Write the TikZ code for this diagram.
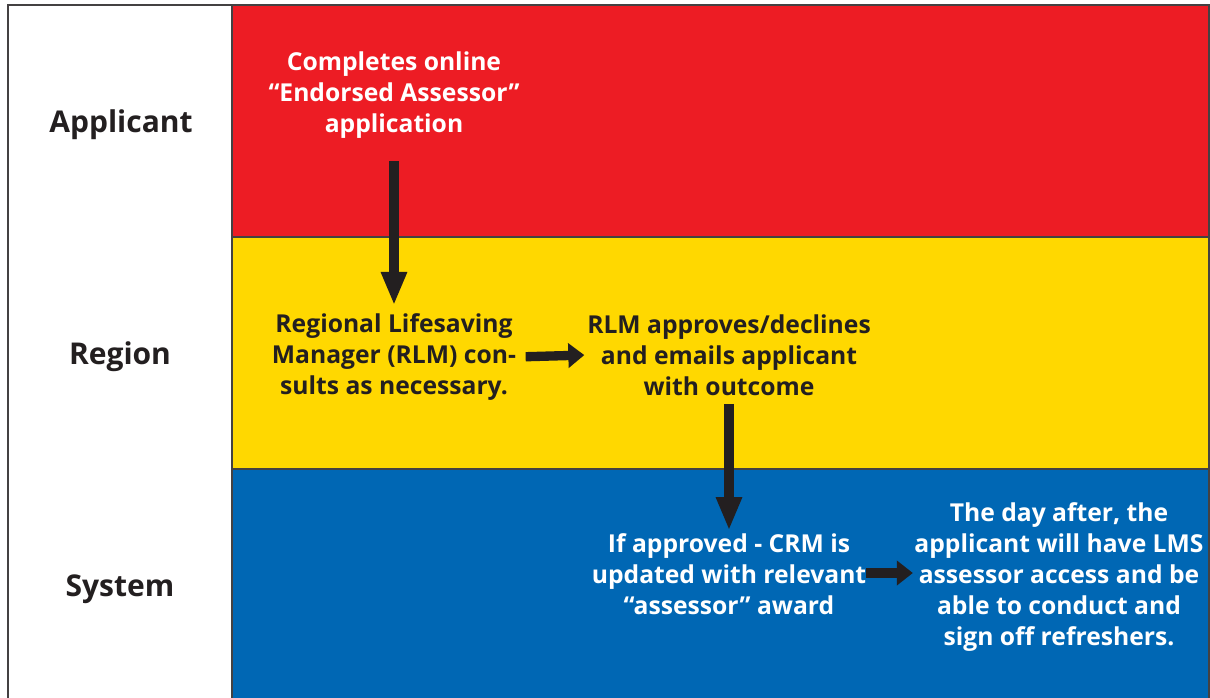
\documentclass[tikz,border=0pt]{standalone}
\usepackage{fontspec}
\setmainfont{Open Sans}
\usetikzlibrary{arrows.meta}
\definecolor{lanered}{HTML}{ED1C24}
\definecolor{laneyellow}{HTML}{FFD800}
\definecolor{laneblue}{HTML}{0067B4}
\definecolor{inkdark}{HTML}{231F20}
\begin{document}
\begin{tikzpicture}[x=0.75pt,y=-0.75pt,
  lanelabel/.style={inner sep=0pt, text=inkdark, font=\fontsize{22.5}{26}\selectfont\bfseries},
  steptext/.style={inner sep=0pt, align=center, font=\fontsize{18.5}{23.25}\selectfont\bfseries},
  flowarrow/.style={draw=inkdark, line width=7.5pt, -{Triangle[width=18pt,length=25pt]}},
  sidearrow/.style={draw=inkdark, line width=7pt, -{Triangle[width=18pt,length=12pt]}}]
\useasboundingbox (0,0) rectangle (1210,698);
\fill[white] (0,0) rectangle (1210,698);
% bands
\fill[lanered] (232,5) rectangle (1209,237);
\fill[laneyellow] (232,237) rectangle (1209,469);
\fill[laneblue] (232,469) rectangle (1209,698);
\draw[inkdark!85, line width=1.2pt] (232,237) -- (1209,237) (232,469) -- (1209,469);
\draw[inkdark!85, line width=1.2pt] (232,5) -- (232,698);
\draw[inkdark!85, line width=1.5pt] (8,698) -- (8,5) -- (1209,5) -- (1209,698);
% lane labels
\node[lanelabel] (lapp) at (121,125) {Applicant};
\node[lanelabel] (lreg) at (120,357) {Region};
\node[lanelabel] (lsys) at (120,589) {System};
% steps
\node[steptext, text=white] (s1) at (394,95) {Completes online\\“Endorsed Assessor”\\application};
\node[steptext, text=inkdark] (s2) at (394,357) {Regional Lifesaving\\Manager (RLM) con-\\sults as necessary.};
\node[steptext, text=inkdark] (s3) at (729,355) {RLM approves/declines\\and emails applicant\\with outcome};
\node[steptext, text=white] (s4) at (729,574) {If approved - CRM is\\updated with relevant\\“assessor” award};
\node[steptext, text=white] (s5) at (1059,577) {The day after, the\\applicant will have LMS\\assessor access and be\\able to conduct and\\sign off refreshers.};
% arrows
\draw[flowarrow, shorten <=17pt, shorten >=6pt] (s1.south) -- (s2.north);
\draw[sidearrow, shorten <=7pt, shorten >=2pt] (s2.east) -- (s3.west);
\draw[flowarrow, shorten <=6pt, shorten >=2pt] (s3.south) -- (s4.north);
\draw[sidearrow, shorten <=0pt, shorten >=1pt] ([yshift=0.75pt]s4.east) -- ([yshift=0.75pt]s4.east -| s5.west);
\end{tikzpicture}
\end{document}
